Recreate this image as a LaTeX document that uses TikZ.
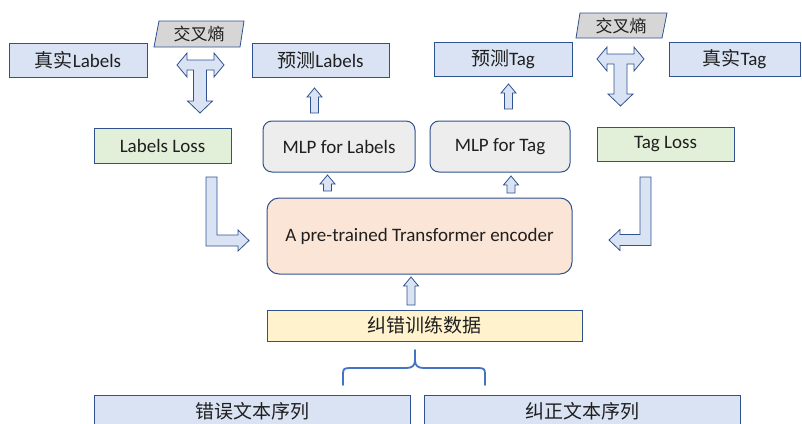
\documentclass[tikz,border=0pt]{standalone}
\usepackage{fontspec}
\setmainfont{Carlito}
\newfontfamily\cjk{Noto Sans CJK SC}
\begin{document}
\begin{tikzpicture}[x=1pt,y=-1pt,
  font=\fontsize{19}{22}\selectfont,
  txt/.style={text=black!88},
  box/.style={draw=edgeblue, line width=1pt, inner sep=0pt, outer sep=0pt, txt},
  bluebox/.style={box, fill=boxblue},
  lossbox/.style={box, fill=lossgreen},
  mlpbox/.style={box, fill=mlpgray, rounded corners=9pt},
  encbox/.style={box, fill=encpeach, rounded corners=12pt},
  databox/.style={box, fill=datayellow},
  blockarrow/.style={draw=edgeblue, fill=boxblue, line width=0.8pt, line join=miter},
  para/.style={draw=edgeblue, fill=paragray, line width=0.8pt},
  brace/.style={draw=braceblue, line width=1.8pt, line cap=round, line join=round}
]
\definecolor{edgeblue}{HTML}{2F528F}
\definecolor{boxblue}{HTML}{DAE3F3}
\definecolor{lossgreen}{HTML}{E2F0D9}
\definecolor{mlpgray}{HTML}{EDEDED}
\definecolor{encpeach}{HTML}{FBE5D6}
\definecolor{datayellow}{HTML}{FFF2CC}
\definecolor{paragray}{HTML}{D6D6D6}
\definecolor{braceblue}{HTML}{4472C4}

\useasboundingbox (0,0) rectangle (802,423);

% upward block arrow: centre x, bottom y, tip y
\newcommand\blockup[3]{%
  \path[blockarrow] (#1-4,#2) -- (#1-4,#3+9) -- (#1-7.5,#3+9) -- (#1,#3)
    -- (#1+7.5,#3+9) -- (#1+4,#3+9) -- (#1+4,#2) -- cycle;}
% T-shaped block arrow: centre x, bar y, left tip x, right tip x, lower tip y
\newcommand\tblock[5]{%
  \path[blockarrow] (#3,#2) -- (#3+10,#2-12) -- (#3+10,#2-5) -- (#4-10,#2-5)
    -- (#4-10,#2-12) -- (#4,#2) -- (#4-10,#2+12) -- (#4-10,#2+5)
    -- (#1+6.5,#2+5) -- (#1+6.5,#5-12) -- (#1+12.5,#5-12) -- (#1,#5)
    -- (#1-12.5,#5-12) -- (#1-6.5,#5-12) -- (#1-6.5,#2+5)
    -- (#3+10,#2+5) -- (#3+10,#2+12) -- cycle;}

% top row
\node[bluebox, minimum width=138, minimum height=34] (trueL) at (78,60) {{\cjk 真实}Labels};
\node[bluebox, minimum width=137, minimum height=34] (predL) at (320.5,60) {{\cjk 预测}Labels};
\node[bluebox, minimum width=138, minimum height=34] (predT) at (503,59) {{\cjk 预测}Tag};
\node[bluebox, minimum width=131, minimum height=34] (trueT) at (734.5,59) {{\cjk 真实}Tag};

% cross-entropy tags
\path[para] (159,21) -- (244,21) -- (240,47) -- (154,47) -- cycle;
\node[txt, font=\fontsize{17}{20}\selectfont\cjk] (ceL) at (199,34) {交叉熵};
\path[para] (580,13) -- (667,13) -- (662,38) -- (576,38) -- cycle;
\node[txt, font=\fontsize{17}{20}\selectfont\cjk] (ceT) at (621,25.5) {交叉熵};

% cross-entropy arrows
\tblock{200}{65}{177}{224}{113}
\tblock{620.5}{59}{597}{644}{106}

% second row
\node[lossbox, minimum width=137, minimum height=35] (lossL) at (162.5,145.5) {Labels Loss};
\node[mlpbox, minimum width=152, minimum height=51] (mlpL) at (339,146.5) {MLP for Labels};
\node[mlpbox, minimum width=140, minimum height=51] (mlpT) at (500,146.5) {MLP for Tag};
\node[lossbox, minimum width=137, minimum height=34] (lossT) at (665.5,144) {Tag Loss};

% MLP outputs
\blockup{314.5}{113}{88}
\blockup{508.5}{109}{84}

% encoder
\node[encbox, minimum width=305, minimum height=76] (enc) at (419.5,236) {A pre-trained Transformer encoder};
\blockup{327.5}{191}{175}
\blockup{511}{193}{176}

% losses fed back into the encoder
\path[blockarrow] (206,177) -- (217,177) -- (217,235) -- (238,235) -- (238,230)
  -- (249,240.5) -- (238,251) -- (238,246) -- (206,246) -- cycle;
\path[blockarrow] (651,177) -- (640,177) -- (640,234.5) -- (620,234.5) -- (620,229.5)
  -- (609,240) -- (620,250.5) -- (620,245.5) -- (651,245.5) -- cycle;

% training data
\node[databox, minimum width=315, minimum height=31] (data) at (424.5,325.5) {\cjk 纠错训练数据};
\blockup{411}{305}{277}

% brace joining the two sequences
\path[brace] (343,385) -- (343,374) .. controls (343,369) and (344,368) .. (350,368)
  -- (406,368) .. controls (412,368) and (415,366) .. (415,360) -- (415,350)
  (415,360) .. controls (415,366) and (418,368) .. (424,368)
  -- (478,368) .. controls (484,368) and (485,369) .. (485,374) -- (485,385);

% bottom row
\node[bluebox, minimum width=316, minimum height=32] (wrong) at (252,411) {\cjk 错误文本序列};
\node[bluebox, minimum width=316, minimum height=32] (right) at (582.5,411) {\cjk 纠正文本序列};
\end{tikzpicture}
\end{document}
